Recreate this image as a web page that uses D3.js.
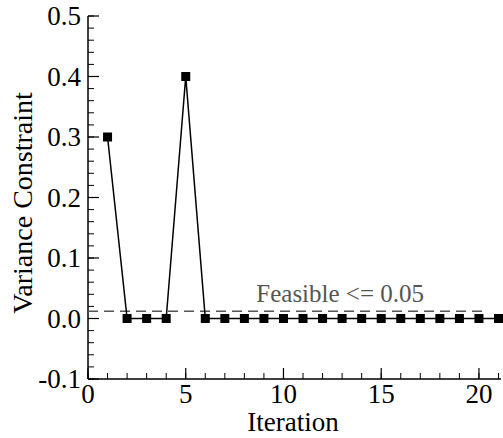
<!DOCTYPE html>
<html>
<head>
<meta charset="utf-8">
<script src="https://cdn.jsdelivr.net/npm/d3@7"></script>
<style>
  body { margin: 0; background: #fff; }
</style>
</head>
<body>
<div id="chart"></div>
<script>
// data
const iterations = [1, 2, 3, 4, 5, 6, 7, 8, 9, 10, 11, 12, 13, 14, 15, 16, 17, 18, 19, 20, 21]
const variance = [0.3, 0, 0, 0, 0.4, 0, 0, 0, 0, 0, 0, 0, 0, 0, 0, 0, 0, 0, 0, 0, 0]
const feasibleLevel = 0.012
const feasibleLabel = 'Feasible <= 0.05'
const xTicks = [0, 5, 10, 15, 20]
const yTicks = [-0.1, 0, 0.1, 0.2, 0.3, 0.4, 0.5]

const FONT = '"Liberation Serif", "Times New Roman", Times, "Nimbus Roman", "Noto Serif", "DejaVu Serif", serif'
const w = 503, h = 438
const m = { left: 88, top: 16, right: 4, bottom: 59 }

const svg = d3.select('#chart').append('svg')
  .attr('width', w)
  .attr('height', h)
  .style('font-family', FONT)

const x = d3.scaleLinear().domain([0, 21]).range([m.left, 498.5])
const y = d3.scaleLinear().domain([-0.1, 0.5]).range([h - m.bottom, m.top])

// axes, ticks pointing inward
const xMinor = d3.range(0, 22, 1)
const yMinor = d3.range(-0.1, 0.5001, 0.02)
const fmt = d => d3.format('.1f')(d).replace('\u2212', '-')

const gx = svg.append('g').attr('transform', 'translate(0,' + y(-0.1) + ')')
gx.append('line').attr('x1', m.left).attr('x2', 501).attr('stroke', '#000').attr('stroke-width', 1.5)
gx.selectAll('.minor').data(xMinor).enter().append('line')
  .attr('x1', d => x(d)).attr('x2', d => x(d)).attr('y1', 0).attr('y2', -6)
  .attr('stroke', '#000').attr('stroke-width', 1)
gx.selectAll('.major').data(xTicks).enter().append('line')
  .attr('x1', d => x(d)).attr('x2', d => x(d)).attr('y1', 0).attr('y2', -11)
  .attr('stroke', '#000').attr('stroke-width', 1.2)
gx.selectAll('text').data(xTicks).enter().append('text')
  .attr('x', d => x(d)).attr('y', 24)
  .attr('text-anchor', 'middle')
  .style('font-family', FONT)
  .attr('font-size', 27)
  .text(d => d)

const gy = svg.append('g').attr('transform', 'translate(' + m.left + ',0)')
gy.append('line').attr('y1', y(-0.1)).attr('y2', y(0.5)).attr('stroke', '#000').attr('stroke-width', 1.5)
gy.selectAll('.minor').data(yMinor).enter().append('line')
  .attr('y1', d => y(d)).attr('y2', d => y(d)).attr('x1', 0).attr('x2', 6)
  .attr('stroke', '#000').attr('stroke-width', 1)
gy.selectAll('.major').data(yTicks).enter().append('line')
  .attr('y1', d => y(d)).attr('y2', d => y(d)).attr('x1', 0).attr('x2', 11)
  .attr('stroke', '#000').attr('stroke-width', 1.2)
gy.selectAll('text').data(yTicks).enter().append('text')
  .attr('x', -7).attr('y', d => y(d) + 9)
  .attr('text-anchor', 'end')
  .style('font-family', FONT)
  .attr('font-size', 27)
  .text(fmt)

// axis titles
svg.append('text')
  .attr('x', 293).attr('y', 431)
  .attr('text-anchor', 'middle')
  .style('font-family', FONT)
  .attr('font-size', 27)
  .text('Iteration')
svg.append('text')
  .attr('transform', 'translate(32,203) rotate(-90)')
  .attr('text-anchor', 'middle')
  .style('font-family', FONT)
  .attr('font-size', 28)
  .text('Variance Constraint')

// feasibility threshold
svg.append('line')
  .attr('x1', x(0)).attr('x2', x(20.45))
  .attr('y1', y(feasibleLevel)).attr('y2', y(feasibleLevel))
  .attr('stroke', '#555').attr('stroke-width', 1.5)
  .attr('stroke-dasharray', '10,6')
svg.append('text')
  .attr('x', x(12.9)).attr('y', y(feasibleLevel) - 9)
  .attr('text-anchor', 'middle')
  .style('font-family', FONT)
  .attr('font-size', 25)
  .attr('fill', '#555')
  .text(feasibleLabel)

// series
const pts = iterations.map((d, i) => ({ it: d, v: variance[i] }))
const line = d3.line().x(d => x(d.it)).y(d => y(d.v))

svg.append('path')
  .datum(pts)
  .attr('d', line)
  .attr('fill', 'none')
  .attr('stroke', '#000')
  .attr('stroke-width', 1.5)

const sz = 9
svg.append('g').selectAll('rect').data(pts).enter().append('rect')
  .attr('x', d => x(d.it) - sz / 2)
  .attr('y', d => y(d.v) - sz / 2)
  .attr('width', sz).attr('height', sz)
  .attr('fill', '#000')
</script>
</body>
</html>
